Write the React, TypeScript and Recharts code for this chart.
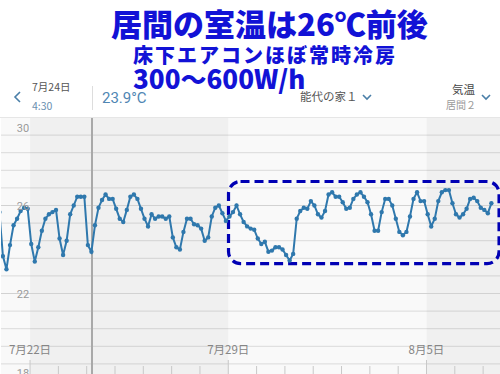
import React from 'react';
import {
  ComposedChart,
  Line,
  XAxis,
  YAxis,
  CartesianGrid,
  ReferenceArea,
  ReferenceLine,
} from 'recharts';

// 居間2 室温 (3時間ごと), 7/22 0:00 基準の時間で並べる
const tempValues = [
  25.7, 23.7, 23.1, 24.2, 25.1, 25.4, 25.75, 25.9, 25.85, 24.25,
  23.45, 24.1, 24.85, 25.4, 25.6, 25.7, 25.8, 24.5, 23.75, 24.4,
  25.6, 26.0, 26.4, 26.4, 26.4, 24.2, 23.9, 25.1, 25.9, 26.25,
  26.5, 26.3, 26.3, 25.85, 25.4, 25.25, 25.8, 26.4, 26.5, 26.3,
  25.85, 25.4, 25.05, 25.6, 25.4, 25.5, 25.5, 25.4, 25.5, 24.55,
  24.1, 24.0, 24.8, 25.4, 25.4, 25.15, 25.1, 24.95, 24.4, 24.55,
  25.5, 25.9, 26.0, 25.65, 25.3, 25.5, 25.7, 26.0, 25.6, 25.25,
  25.05, 24.95, 24.9, 24.5, 24.25, 24.35, 23.9, 23.95, 24.1, 24.1,
  24.0, 23.75, 23.5, 23.8, 25.4, 25.75, 25.9, 25.85, 26.2, 26.0,
  25.6, 25.45, 25.75, 26.5, 26.6, 26.4, 26.4, 26.15, 25.85, 25.9,
  26.3, 26.5, 26.6, 26.4, 26.15, 25.6, 24.85, 24.85, 25.7, 26.3,
  26.3, 26.0, 25.4, 24.8, 24.65, 24.8, 25.5, 26.3, 26.6, 26.2,
  26.2, 25.6, 25.05, 25.4, 26.2, 26.6, 26.7, 26.7, 26.1, 25.6,
  25.45, 25.6, 25.85, 26.3, 26.35, 26.2, 25.9, 25.8, 25.65, 26.1,
];
const START_HOUR = -26;
const STEP_HOURS = 3;

const dayTicks = [0, 24, 48, 72, 96, 120, 144, 168, 192, 216, 240, 264, 288, 312, 336, 360, 384];
const dateLabels: Record<number, string> = { 0: '7月22日', 168: '7月29日', 336: '8月5日' };

const gridTicks = [18, 18.8, 19.6, 20.4, 21.2, 22, 22.8, 23.6, 24.4, 25.2, 26, 26.8, 27.6, 28.4, 29.2, 30];
const axisLabels = [18, 22, 26, 30];
const majorLines = [22, 26];

// 週ごとの背景
const weekBands = [
  { from: -25.5, to: 0, dark: false },
  { from: 0, to: 168, dark: true },
  { from: 168, to: 336, dark: false },
  { from: 336, to: 400, dark: true },
];

const cursorHour = 52.5; // 7/24 4:30
const highlight = { x1: 168.2, x2: 397.5, y1: 23.36, y2: 27.09 };

const data = tempValues.map((v, i) => ({ t: START_HOUR + i * STEP_HOURS, v }));

const LINE_COLOR = '#2f78ad';
const JP = '"Noto Sans CJK JP", "Noto Sans", sans-serif';

const DayTick = ({ x, payload }: any) => {
  const label = dateLabels[payload.value];
  return (
    <g>
      <line x1={x} x2={x} y1={label ? 360 : 366} y2={381} stroke="#c8c8c8" strokeWidth={1} />
      {label && (
        <text x={x} y={354} textAnchor="middle" fontSize={11.5} fill="#858585" fontFamily={JP}>
          {label}
        </text>
      )}
    </g>
  );
};

const TempTick = ({ y, payload }: any) => {
  const v = payload.value;
  if (!axisLabels.includes(v)) return <g />;
  let ty = y + 4;
  if (v === 30) ty = y + 14.5;
  if (v === 18) ty = y - 4.5;
  return (
    <text x={23} y={ty} textAnchor="middle" fontSize={11} fill="#9a9a9a" fontFamily="Roboto, sans-serif">
      {v}
    </text>
  );
};

const Chevron = ({ left, top, dir = 'down' }: { left: number; top: number; dir?: string }) => (
  <svg width={10} height={12} style={{ position: 'absolute', left, top }}>
    {dir === 'down' ? (
      <polyline points="1,3 5,7 9,3" fill="none" stroke="#4a7fa8" strokeWidth={1.6} />
    ) : (
      <polyline points="7,1 2,6 7,11" fill="none" stroke="#4a7fa8" strokeWidth={1.6} />
    )}
  </svg>
);

export default function App() {
  return (
    <div style={{
      position: 'fixed',
      left: 0,
      top: 0,
      width: 500,
      height: 374,
      overflow: 'hidden',
      backgroundColor: '#ffffff',
      fontFamily: JP
    }}>
      <div style={{ position: 'absolute', left: 0, top: 0 }}>
        <ComposedChart
          width={501}
          height={390}
          data={data}
          margin={{ top: 117.5, right: 0, bottom: 7.5, left: 0 }}
        >
          {weekBands.map((b, i) => (
            <ReferenceArea
              key={'band' + i}
              x1={b.from}
              x2={b.to}
              y1={18}
              y2={30}
              fill="#000000"
              fillOpacity={b.dark ? 0.06 : 0.025}
              stroke="none"
              ifOverflow="hidden"
            />
          ))}
          <CartesianGrid vertical={false} stroke="#e0e0e0" strokeWidth={1} />
          {majorLines.map((v) => (
            <ReferenceLine key={'major' + v} y={v} stroke="#d2d2d2" strokeWidth={1} />
          ))}
          <XAxis
            dataKey="t"
            type="number"
            domain={[-24.63, 399.15]}
            allowDataOverflow
            ticks={dayTicks}
            interval={0}
            height={1}
            axisLine={false}
            tickLine={false}
            tick={<DayTick />}
          />
          <YAxis
            type="number"
            domain={[18, 30]}
            allowDataOverflow
            ticks={gridTicks}
            interval={0}
            width={1}
            axisLine={false}
            tickLine={false}
            tick={<TempTick />}
          />
          <ReferenceLine x={cursorHour} stroke="#a9a9a9" strokeWidth={2} />
          <Line
            type="linear"
            dataKey="v"
            stroke={LINE_COLOR}
            strokeWidth={2}
            dot={{ r: 2.2, fill: LINE_COLOR, stroke: LINE_COLOR, strokeWidth: 0 }}
            activeDot={false}
            isAnimationActive={false}
          />
          <ReferenceArea
            x1={highlight.x1}
            x2={highlight.x2}
            y1={highlight.y1}
            y2={highlight.y2}
            ifOverflow="visible"
            shape={(p: any) => (
              <rect
                x={p.x}
                y={p.y}
                width={p.width}
                height={p.height}
                rx={12}
                ry={12}
                fill="none"
                stroke="#0000b4"
                strokeWidth={3.2}
                strokeDasharray="9 5"
              />
            )}
          />
        </ComposedChart>
      </div>

      {/* header */}
      <div style={{ position: 'absolute', left: 0, top: 116.5, width: 500, height: 1, backgroundColor: '#e6e6e6' }} />
      <div style={{
        position: 'absolute', left: 111, top: 8, fontSize: 31, lineHeight: '30px',
        fontWeight: 900, color: '#1212d6', whiteSpace: 'nowrap'
      }}>
        居間の室温は26℃前後
      </div>
      <div style={{
        position: 'absolute', left: 133, top: 45, fontSize: 20, lineHeight: '20px',
        fontWeight: 900, color: '#1212d6', letterSpacing: '2px', whiteSpace: 'nowrap'
      }}>
        床下エアコンほぼ常時冷房
      </div>
      <div style={{
        position: 'absolute', left: 133, top: 67, fontSize: 26, lineHeight: '22px',
        fontWeight: 900, color: '#1212d6', whiteSpace: 'nowrap'
      }}>
        300〜600W/h
      </div>

      <Chevron left={13} top={91} dir="left" />
      <div style={{ position: 'absolute', left: 32, top: 81, fontSize: 10.5, lineHeight: '12px', color: '#555555' }}>7月24日</div>
      <div style={{ position: 'absolute', left: 32, top: 100, fontSize: 10.5, lineHeight: '12px', color: '#6a8fb0' }}>4:30</div>
      <div style={{ position: 'absolute', left: 92, top: 86, width: 1, height: 24, backgroundColor: '#dddddd' }} />
      <div style={{
        position: 'absolute', left: 102, top: 90, fontSize: 15, lineHeight: '16px',
        color: '#4f86b3', fontFamily: 'Roboto, sans-serif'
      }}>
        23.9°C
      </div>
      <div style={{ position: 'absolute', left: 300, top: 90, fontSize: 11.5, lineHeight: '13px', color: '#555555' }}>能代の家１</div>
      <Chevron left={362} top={92} />
      <div style={{ position: 'absolute', left: 452, top: 83, fontSize: 11.5, lineHeight: '13px', color: '#444444' }}>気温</div>
      <div style={{ position: 'absolute', left: 446, top: 99, fontSize: 10, lineHeight: '12px', color: '#9a9a9a' }}>居間２</div>
      <Chevron left={481} top={92} />
    </div>
  );
}
